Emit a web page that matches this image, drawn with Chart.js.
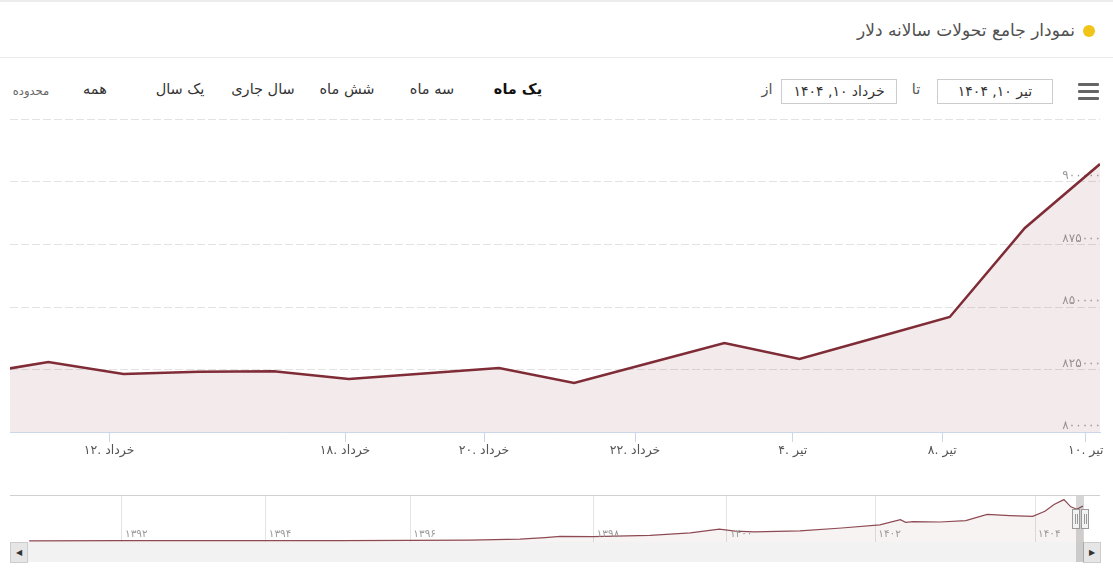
<!DOCTYPE html>
<html>
<head>
<meta charset="utf-8">
<script src="https://cdn.jsdelivr.net/npm/chart.js@4.4.1/dist/chart.umd.min.js"></script>
<style>
  body { margin: 0; background: #fff; font-family: "DejaVu Sans", sans-serif; }
  #page { position: relative; width: 1113px; height: 577px; overflow: hidden; }
  .abs { position: absolute; }
  #topline { left: 0; top: 0; width: 1113px; height: 2px; background: #ececec; }
  #head { left: 0; top: 0; width: 1113px; height: 58px; border-bottom: 1px solid #ececec; box-sizing: border-box; }
  #title { right: 38px; top: 20px; font-size: 17px; color: #505050; direction: rtl; white-space: nowrap; }
  #dot { left: 1083px; top: 25px; width: 12px; height: 12px; border-radius: 50%; background: #f0c419; }
  .btn { top: 81px; font-size: 14.5px; color: #333; direction: rtl; white-space: nowrap; transform: translateX(-50%); }
  .box { top: 79px; width: 114px; height: 23px; border: 1px solid #ccc; font-size: 14px; color: #333; text-align: center; line-height: 23px; direction: rtl; }
  .bar { left: 1078px; width: 21px; height: 3px; background: #666; border-radius: 1px; }
  #navtop { left: 10px; top: 495px; width: 1090px; height: 1px; background: #d0d0d0; }
  #scroll { left: 10px; top: 542px; width: 1090px; height: 20px; background: #f2f2f2; }
  .arrow { top: 542px; width: 16px; height: 19px; background: #e6e6e6; border: 1px solid #ccc; font-size: 8px; color: #333; text-align: center; line-height: 19px; }
  #thumb { left: 1076px; top: 496px; width: 8px; height: 66px; background: rgba(0,0,0,0.16); }
  .handle { top: 509px; width: 6px; height: 18px; background: #f2f2f2; border: 1px solid #999; }
  .handle i { position: absolute; top: 4px; width: 1px; height: 10px; background: #999; }
</style>
</head>
<body>
<div id="page">
  <div id="head" class="abs"></div>
  <div id="topline" class="abs"></div>
  <div id="title" class="abs">نمودار جامع تحولات سالانه دلار</div>
  <div id="dot" class="abs"></div>

  <div class="abs btn" style="left:518px;font-weight:bold;color:#111">یک ماه</div>
  <div class="abs btn" style="left:432px">سه ماه</div>
  <div class="abs btn" style="left:347px">شش ماه</div>
  <div class="abs btn" style="left:263px">سال جاری</div>
  <div class="abs btn" style="left:180px">یک سال</div>
  <div class="abs btn" style="left:95px">همه</div>
  <div class="abs btn" style="left:31px;font-size:11.5px;color:#666;top:84px">محدوده</div>

  <div class="abs btn" style="left:767px;color:#555">از</div>
  <div class="abs box" style="left:781px">خرداد ۱۰, ۱۴۰۴</div>
  <div class="abs btn" style="left:916px;color:#555">تا</div>
  <div class="abs box" style="left:937px">تیر ۱۰, ۱۴۰۴</div>
  <div class="abs bar" style="top:83px"></div>
  <div class="abs bar" style="top:90px"></div>
  <div class="abs bar" style="top:97px"></div>

  <canvas id="main" class="abs" style="left:0;top:100px" width="1113" height="372"></canvas>

  <div id="navtop" class="abs"></div>
  <canvas id="nav" class="abs" style="left:0;top:496px" width="1113" height="46"></canvas>
  <div id="scroll" class="abs"></div>
  <div class="abs arrow" style="left:10px">&#9664;</div>
  <div class="abs arrow" style="left:1083px">&#9654;</div>
  <div id="thumb" class="abs"></div>
  <div class="abs handle" style="left:1072px"><i style="left:2px"></i><i style="left:4px"></i></div>
  <div class="abs handle" style="left:1081px"><i style="left:2px"></i><i style="left:4px"></i></div>
</div>

<script>
// daily dollar rate (rial), last month, one point per trading day
const rates = [823000, 828000, 823200, 824100, 824300, 821200, 823400, 825600,
  819600, 827600, 835600, 829200, 837600, 846000, 881600, 907200];
const dayTicks = [1.81, 4.95, 6.80, 8.81, 10.91, 12.90, 14.81];
const dayLabels = ["۱۲. خرداد", "۱۸. خرداد", "۲۰. خرداد", "۲۲. خرداد", "۴. تیر", "۸. تیر", "۱۰. تیر"];

// navigator: whole history (year position, rate)
const navYears = [1390.78, 1391.97, 1393.03, 1393.89, 1394.87, 1395.80, 1396.57, 1397.23,
  1397.56, 1397.76, 1398.19, 1398.94, 1399.47, 1399.85, 1400.06, 1400.31, 1400.91,
  1401.46, 1401.96, 1402.23, 1402.30, 1402.40, 1402.75, 1403.09, 1403.37, 1403.67,
  1403.97, 1404.13, 1404.25, 1404.38, 1404.47, 1404.55, 1404.63];
const navRates = [30000, 33000, 34000, 36000, 36500, 42000, 48000, 70000,
  110000, 140000, 135000, 165000, 230000, 320000, 270000, 255000, 280000,
  350000, 430000, 560000, 490000, 510000, 500000, 535000, 690000, 660000,
  640000, 770000, 940000, 1060000, 880000, 820000, 900000];
const yearTicks = [1392, 1393.89, 1395.79, 1398.2, 1399.95, 1401.9, 1404];
const yearLabels = ["۱۳۹۲", "۱۳۹۴", "۱۳۹۶", "۱۳۹۸", "۱۴۰۰", "۱۴۰۲", "۱۴۰۴"];

const faFont = "'DejaVu Sans', sans-serif";
const toFa = (n) => String(n).replace(/\d/g, (d) => "۰۱۲۳۴۵۶۷۸۹"[d]);

new Chart(document.getElementById("main"), {
  type: "line",
  data: {
    datasets: [{
      data: rates.map((v, i) => ({ x: i, y: v })),
      borderColor: "#7f2c36",
      borderWidth: 2.5,
      backgroundColor: "rgba(132,48,58,0.1)",
      fill: "start",
      pointRadius: 0,
      tension: 0,
    }],
  },
  options: {
    responsive: false,
    animation: false,
    layout: { padding: { left: 10, right: 13, top: 19.5, bottom: 0 } },
    plugins: { legend: { display: false }, tooltip: { enabled: false } },
    scales: {
      x: {
        type: "linear",
        min: 0.49,
        max: 15,
        afterBuildTicks: (s) => { s.ticks = dayTicks.map((v) => ({ value: v })); },
        afterFit: (s) => { s.height = 40; },
        ticks: {
          callback: (v, i) => dayLabels[i],
          autoSkip: false,
          maxRotation: 0,
          padding: 1,
          color: "#555",
          font: { size: 12.5, family: faFont },
        },
        grid: { drawOnChartArea: false, tickLength: 10, color: "#ccd6eb" },
        border: { color: "#ccd6eb" },
      },
      y: {
        position: "right",
        min: 800000,
        max: 925000,
        afterFit: (s) => { s.width = 0; },
        ticks: {
          stepSize: 25000,
          mirror: true,
          padding: 1,
          labelOffset: -6,
          callback: (v) => (v >= 925000 ? "" : toFa(v)),
          color: "#999",
          font: { size: 12, family: faFont },
        },
        grid: { color: "#e3e3e3", drawTicks: false },
        border: { display: false, dash: [8, 3] },
      },
    },
  },
});

// year labels sit inside the navigator, right of each grid line
const yearLabelPlugin = {
  id: "yearLabels",
  afterDraw(chart) {
    const { ctx, scales, chartArea } = chart;
    ctx.save();
    ctx.fillStyle = "#999";
    ctx.font = "10.5px " + faFont;
    ctx.textBaseline = "middle";
    ctx.textAlign = "left";
    yearTicks.forEach((v, i) => {
      ctx.fillText(yearLabels[i], scales.x.getPixelForValue(v) + 3, chartArea.bottom - 8);
    });
    ctx.restore();
  },
};

new Chart(document.getElementById("nav"), {
  type: "line",
  plugins: [yearLabelPlugin],
  data: {
    datasets: [{
      data: navYears.map((t, i) => ({ x: t, y: navRates[i] })),
      borderColor: "#8e4a53",
      borderWidth: 1.2,
      backgroundColor: "rgba(132,48,58,0.06)",
      fill: "start",
      pointRadius: 0,
      tension: 0,
    }],
  },
  options: {
    responsive: false,
    animation: false,
    layout: { padding: { left: 10, right: 13, top: 0, bottom: 0 } },
    plugins: { legend: { display: false }, tooltip: { enabled: false } },
    scales: {
      x: {
        type: "linear",
        min: 1390.528,
        max: 1404.854,
        afterBuildTicks: (s) => { s.ticks = yearTicks.map((v) => ({ value: v })); },
        afterFit: (s) => { s.height = 0; },
        ticks: { display: false },
        grid: { color: "#e3e3e3", drawTicks: false },
        border: { display: false },
      },
      y: { display: false, min: 0, max: 1150000 },
    },
  },
});
</script>
</body>
</html>
